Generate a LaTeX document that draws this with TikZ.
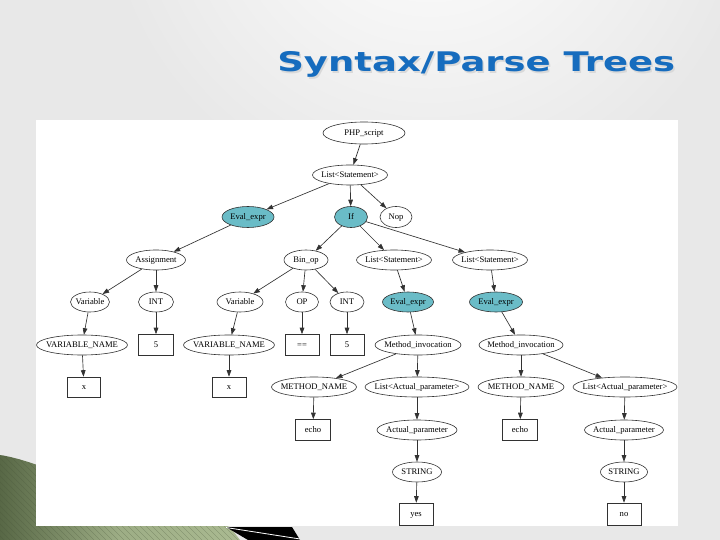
\documentclass[tikz,border=0pt]{standalone}
\usepackage{fontspec}
\setmainfont{Liberation Serif}
\newfontfamily\titlefont{DejaVu Sans}
\usetikzlibrary{shapes.geometric,arrows.meta}
\definecolor{slidegray}{RGB}{232,232,232}
\definecolor{tealfill}{RGB}{106,188,199}
\definecolor{titleblue}{RGB}{22,108,190}
\definecolor{dkgreen}{RGB}{88,104,70}
\definecolor{ltgreen}{RGB}{170,186,145}
\definecolor{linegray}{RGB}{50,50,50}
\newcommand\mb[1]{\makebox[0pt]{#1}}
\tikzset{
  el/.style={ellipse, draw=linegray, line width=0.6pt, fill=white, inner sep=0pt,
    minimum height=20, text height=5.7pt, text depth=0pt, font=\fontsize{8.6}{9}\selectfont},
  tl/.style={el, fill=tealfill},
  bx/.style={rectangle, draw=linegray, line width=0.6pt, fill=white, inner sep=0pt,
    minimum width=34, minimum height=21, text height=4.6pt, text depth=0pt, font=\fontsize{8.6}{9}\selectfont},
  edge/.style={draw=linegray, line width=0.65pt, -{Triangle[length=6.5pt,width=4.6pt]}}
}
\begin{document}
\begin{tikzpicture}[x=1pt,y=-1pt]
\useasboundingbox (0,0) rectangle (720,540);
% slide background
\fill[slidegray] (0,0) rectangle (720,540);
\shade[inner color=white, outer color=slidegray] (430,-120) circle (330);
% green decoration bottom-left
\shade[left color=dkgreen, right color=ltgreen, middle color=ltgreen!85!dkgreen]
  (0,455) .. controls (20,458) and (40,466) .. (80,480) -- (230,527) -- (240,540) -- (0,540) -- cycle;
\begin{scope}
  \clip (0,455) .. controls (20,458) and (40,466) .. (80,480) -- (230,527) -- (240,540) -- (0,540) -- cycle;
  \foreach \i in {-120,-114,...,260} {
    \draw[dkgreen!80!black, line width=0.3pt, opacity=0.5] (\i,440) -- (\i+100,540);
  }
\end{scope}
\fill[black] (226,527) -- (292,527) -- (300,540) -- (248,540) -- cycle;
\draw[white, line width=0.8pt] (226,527.5) -- (300,539);
% white panel
\fill[white] (36,120) rectangle (678,526);
% title
\node[anchor=base west, inner sep=0pt, text=black!15, xscale=1.37] at (278.5,73.5)
  {\titlefont\bfseries\fontsize{27}{30}\selectfont Syntax/Parse Trees};
\node[anchor=base west, inner sep=0pt, text=titleblue, xscale=1.37] (title) at (277,72)
  {\titlefont\bfseries\fontsize{27}{30}\selectfont Syntax/Parse Trees};
% nodes
\node[el, minimum width=82, minimum height=22] (php) at (364,133) {\mb{PHP\_script}};
\node[el, minimum width=75] (ls0) at (350,175) {\mb{List<Statement>}};
\node[tl, minimum width=52, minimum height=21] (ev1) at (248,217) {\mb{Eval\_expr}};
\node[tl, minimum width=33, minimum height=21] (ifn) at (351,217) {\mb{If}};
\node[el, minimum width=32, minimum height=21] (nop) at (396,217) {\mb{Nop}};
\node[el, minimum width=59] (asg) at (156,260) {\mb{Assignment}};
\node[el, minimum width=44] (binop) at (306,260) {\mb{Bin\_op}};
\node[el, minimum width=75] (ls1) at (394,260) {\mb{List<Statement>}};
\node[el, minimum width=75] (ls2) at (490,260) {\mb{List<Statement>}};
\node[el, minimum width=39] (var1) at (90,302) {\mb{Variable}};
\node[el, minimum width=35] (int1) at (156,302) {\mb{INT}};
\node[el, minimum width=46] (var2) at (240,302) {\mb{Variable}};
\node[el, minimum width=33] (op) at (302,302) {\mb{OP}};
\node[el, minimum width=34] (int2) at (347,302) {\mb{INT}};
\node[tl, minimum width=51] (ev2) at (408,302) {\mb{Eval\_expr}};
\node[tl, minimum width=53] (ev3) at (496,302) {\mb{Eval\_expr}};
\node[el, minimum width=91] (vn1) at (82,345) {\mb{VARIABLE\_NAME}};
\node[bx, minimum width=35] (b5a) at (156,345) {5};
\node[el, minimum width=91] (vn2) at (229,345) {\mb{VARIABLE\_NAME}};
\node[bx] (beq) at (302,345) {==};
\node[bx] (b5b) at (347,345) {5};
\node[el, minimum width=86] (mi1) at (418,345) {\mb{Method\_invocation}};
\node[el, minimum width=84] (mi2) at (521,345) {\mb{Method\_invocation}};
\node[bx, minimum width=33, minimum height=20] (x1) at (84,387) {x};
\node[bx, minimum height=20] (x2) at (229,387) {x};
\node[el, minimum width=85] (mn1) at (314,387) {\mb{METHOD\_NAME}};
\node[el, minimum width=104] (lap1) at (417,387) {\mb{List<Actual\_parameter>}};
\node[el, minimum width=86] (mn2) at (521,387) {\mb{METHOD\_NAME}};
\node[el, minimum width=104] (lap2) at (625,387) {\mb{List<Actual\_parameter>}};
\node[bx, minimum width=35] (echo1) at (313,430) {echo};
\node[el, minimum width=80] (ap1) at (417,430) {\mb{Actual\_parameter}};
\node[bx, minimum width=35] (echo2) at (520,430) {echo};
\node[el, minimum width=79] (ap2) at (624,430) {\mb{Actual\_parameter}};
\node[el, minimum width=49] (str1) at (417,472) {\mb{STRING}};
\node[el, minimum width=47] (str2) at (624,472) {\mb{STRING}};
\node[bx, minimum height=22] (yes) at (416,514) {yes};
\node[bx, minimum height=22] (no) at (624,514) {no};
% edges
\path[edge] (php) -- (ls0);
\path[edge] (ls0) -- (ev1);
\path[edge] (ls0) -- (ifn);
\path[edge] (ls0) -- (nop);
\path[edge] (ev1) -- (asg);
\path[edge] (asg) -- (var1);
\path[edge] (asg) -- (int1);
\path[edge] (var1) -- (vn1);
\path[edge] (vn1) -- (x1);
\path[edge] (int1) -- (b5a);
\path[edge] (ifn) -- (binop);
\path[edge] (ifn) -- (ls1);
\path[edge] (ifn) -- (ls2);
\path[edge] (binop) -- (var2);
\path[edge] (binop) -- (op);
\path[edge] (binop) -- (int2);
\path[edge] (var2) -- (vn2);
\path[edge] (vn2) -- (x2);
\path[edge] (op) -- (beq);
\path[edge] (int2) -- (b5b);
\path[edge] (ls1) -- (ev2);
\path[edge] (ev2) -- (mi1);
\path[edge] (mi1) -- (mn1);
\path[edge] (mi1) -- (lap1);
\path[edge] (mn1) -- (echo1);
\path[edge] (lap1) -- (ap1);
\path[edge] (ap1) -- (str1);
\path[edge] (str1) -- (yes);
\path[edge] (ls2) -- (ev3);
\path[edge] (ev3) -- (mi2);
\path[edge] (mi2) -- (mn2);
\path[edge] (mi2) -- (lap2);
\path[edge] (mn2) -- (echo2);
\path[edge] (lap2) -- (ap2);
\path[edge] (ap2) -- (str2);
\path[edge] (str2) -- (no);
\end{tikzpicture}
\end{document}
